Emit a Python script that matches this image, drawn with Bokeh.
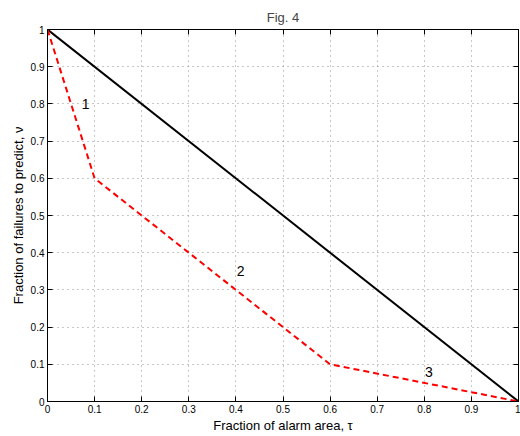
from bokeh.plotting import figure
from bokeh.models import LinearAxis, Range1d, FixedTicker, Label, CustomJSTickFormatter
from bokeh.embed import file_html
from bokeh.resources import INLINE

# data
diag_x = [0, 1]
diag_y = [1, 0]
curve_x = [0, 0.1, 0.6, 1.0]
curve_y = [1.0, 0.6, 0.1, 0.0]
label_text = ["1", "2", "3"]
label_x = [0.081, 0.41, 0.81]
label_y = [0.80, 0.352, 0.078]
ticks = [0, 0.1, 0.2, 0.3, 0.4, 0.5, 0.6, 0.7, 0.8, 0.9, 1]

FONT = "Liberation Sans"

p = figure(width=520, height=436, output_backend="svg", toolbar_location=None,
           x_range=Range1d(0, 1), y_range=Range1d(0, 1),
           min_border_left=47, min_border_right=2, min_border_top=29, min_border_bottom=35,
           title="Fig. 4")
p.title.align = "center"
p.title.text_font = FONT
p.title.text_font_size = "13px"
p.title.text_font_style = "normal"
p.title.standoff = 9

p.outline_line_color = "black"
p.outline_line_width = 1
p.background_fill_color = "white"
p.border_fill_color = "white"

for ax in [p.xaxis[0], p.yaxis[0]]:
    ax.ticker = FixedTicker(ticks=ticks)
    ax.major_tick_in = 5
    ax.major_tick_out = 0
    ax.minor_tick_in = 0
    ax.minor_tick_out = 0
    ax.axis_line_color = "black"
    ax.major_label_text_font = FONT
    ax.major_label_text_font_size = "10px"
    ax.major_label_text_color = "black"
    ax.axis_label_text_font = FONT
    ax.axis_label_text_font_size = "13px"
    ax.axis_label_text_font_style = "normal"
    ax.axis_label_text_color = "black"
    ax.major_label_standoff = 3
    ax.axis_label_standoff = 2

p.xaxis[0].axis_label = "Fraction of alarm area, τ"
p.yaxis[0].axis_label = "Fraction of failures to predict, ν"
p.xaxis[0].major_label_overrides = {0: "0", 1: "1"}
p.yaxis[0].major_label_overrides = {0: "0", 1: "1"}

# box axes on top and right: inward ticks only, no labels
for loc in ["above", "right"]:
    ax = LinearAxis(ticker=FixedTicker(ticks=ticks), major_tick_in=5, major_tick_out=0,
                    minor_tick_in=0, minor_tick_out=0, major_label_standoff=0,
                    major_label_text_font_size="10px",
                    formatter=CustomJSTickFormatter(code="return ''"),
                    axis_line_color="black")
    p.add_layout(ax, loc)

p.grid.ticker = FixedTicker(ticks=ticks)
p.grid.grid_line_color = "#909090"
p.grid.grid_line_dash = "1 4"
p.grid.grid_line_width = 1

p.line(diag_x, diag_y, line_color="black", line_width=2)
p.line(curve_x, curve_y, line_color="#ff0000", line_width=2, line_dash="6 4")

for t, x, y in zip(label_text, label_x, label_y):
    p.add_layout(Label(x=x, y=y, text=t, text_font=FONT, text_font_size="14px",
                       text_align="center", text_baseline="middle", text_color="black"))

open("out.html", "w").write(file_html(p, INLINE))
